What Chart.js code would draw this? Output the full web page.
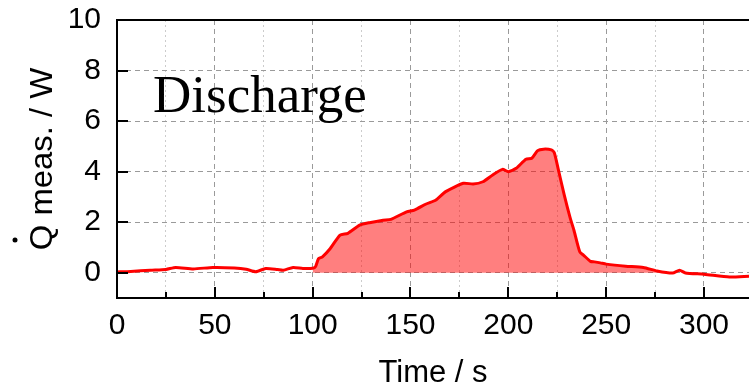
<!DOCTYPE html>
<html>
<head>
<meta charset="utf-8">
<script src="https://cdn.jsdelivr.net/npm/chart.js@4.4.1/dist/chart.umd.min.js"></script>
<style>
  html, body { margin: 0; padding: 0; background: #fff; }
  #wrap { width: 749px; height: 392px; }
</style>
</head>
<body>
<div id="wrap"><canvas id="qChart" width="749" height="392"></canvas></div>
<script>
// measured heat flow during discharge
const timeS = [0, 7, 17, 25, 30, 39, 49, 60, 66, 71, 76, 82, 85, 90, 95, 100, 101.5, 103, 105, 109,
  114, 118, 124, 129, 136, 140, 148, 152, 158, 163, 168, 177, 182, 187, 192, 197, 200, 204, 209, 212,
  215, 218, 222, 223.5, 225.5, 228.5, 231.5, 233.5, 236.5, 238.5, 242, 244, 247, 250, 260, 269, 276,
  284, 287.5, 290.5, 300, 313, 323];
const qMeasW = [0.03, 0.05, 0.1, 0.13, 0.21, 0.15, 0.21, 0.19, 0.14, 0.04, 0.17, 0.13, 0.1, 0.21, 0.17, 0.18, 0.25, 0.56, 0.63, 0.96,
  1.49, 1.56, 1.88, 1.98, 2.08, 2.11, 2.41, 2.48, 2.72, 2.88, 3.21, 3.54, 3.51, 3.6, 3.87, 4.09, 4.0, 4.13, 4.49, 4.53,
  4.83, 4.89, 4.86, 4.75, 4.1, 3.1, 2.2, 1.69, 0.83, 0.69, 0.45, 0.43, 0.39, 0.34, 0.26, 0.21, 0.07,
  -0.01, 0.1, -0.01, -0.06, -0.17, -0.14];

const xMajorTicks = [0, 50, 100, 150, 200, 250, 300];
const xMinorTicks = [25, 75, 125, 175, 225, 275];
const yTicks = [0, 2, 4, 6, 8, 10];
const xRange = [0, 323];
const yRange = [-1, 10];
const dischargeWindow = [100, 276];

const curve = timeS.map((t, i) => ({ x: t, y: qMeasW[i] }));
const dischargeArea = curve.filter(p => p.x >= dischargeWindow[0] && p.x <= dischargeWindow[1]);

const isMajorX = v => xMajorTicks.includes(v);

// frame, inward tick marks, y title with the flow dot, and the panel label
const framePlugin = {
  id: 'frame',
  afterDraw(chart) {
    const { ctx, chartArea: a, scales } = chart;
    const xs = scales.x, ys = scales.y;
    ctx.save();
    ctx.strokeStyle = '#000';
    ctx.lineWidth = 2;
    ctx.beginPath();
    ctx.moveTo(a.right, a.top);
    ctx.lineTo(a.left, a.top);
    ctx.lineTo(a.left, a.bottom);
    ctx.lineTo(a.right, a.bottom);
    ctx.stroke();

    ctx.beginPath();
    xMajorTicks.forEach(v => {
      const px = Math.round(xs.getPixelForValue(v));
      ctx.moveTo(px, a.bottom);
      ctx.lineTo(px, a.bottom - 11);
    });
    xMinorTicks.forEach(v => {
      const px = Math.round(xs.getPixelForValue(v));
      ctx.moveTo(px, a.bottom);
      ctx.lineTo(px, a.bottom - 6);
    });
    yTicks.forEach(v => {
      const py = Math.round(ys.getPixelForValue(v));
      ctx.moveTo(a.left, py);
      ctx.lineTo(a.left + 11, py);
    });
    ctx.stroke();

    // y axis title, slightly stretched along its length
    ctx.fillStyle = '#000';
    ctx.font = '31px "Liberation Sans", Arial, sans-serif';
    ctx.textAlign = 'center';
    ctx.textBaseline = 'middle';
    ctx.save();
    ctx.translate(43, (a.top + a.bottom) / 2);
    ctx.rotate(-Math.PI / 2);
    ctx.scale(1.06, 1);
    ctx.fillText('Q meas. / W', 0, 0);
    ctx.restore();
    ctx.beginPath();
    ctx.arc(15, 240, 2.5, 0, Math.PI * 2);
    ctx.fill();

    ctx.font = '53px "Liberation Serif", "Times New Roman", serif';
    ctx.textAlign = 'left';
    ctx.textBaseline = 'alphabetic';
    ctx.fillText('Discharge', a.left + 36, 112);
    ctx.restore();
  }
};

const axisFont = { family: '"Liberation Sans", Arial, sans-serif', size: 30 };

new Chart(document.getElementById('qChart'), {
  type: 'line',
  data: {
    datasets: [
      {
        data: curve,
        borderColor: '#ff0000',
        borderWidth: 3,
        pointRadius: 0,
        tension: 0.2,
        fill: false
      },
      {
        data: dischargeArea,
        borderWidth: 0,
        borderColor: 'rgba(0,0,0,0)',
        backgroundColor: 'rgba(255, 0, 0, 0.5)',
        pointRadius: 0,
        tension: 0.2,
        fill: 'origin'
      }
    ]
  },
  options: {
    responsive: false,
    animation: false,
    layout: { padding: { top: 20, left: 0, right: 0, bottom: 0 } },
    plugins: {
      legend: { display: false },
      tooltip: { enabled: false }
    },
    scales: {
      x: {
        type: 'linear',
        min: xRange[0],
        max: xRange[1],
        afterBuildTicks: scale => {
          scale.ticks = [...xMajorTicks, ...xMinorTicks].sort((p, q) => p - q).map(v => ({ value: v }));
        },
        afterFit: scale => {
          scale.height = 94;
          scale.paddingLeft = 0;
          scale.paddingRight = 0;
        },
        ticks: {
          autoSkip: false,
          maxRotation: 0,
          padding: 10,
          color: '#000',
          font: axisFont,
          callback: v => (isMajorX(v) ? String(v) : '')
        },
        grid: {
          drawTicks: false,
          lineWidth: 1,
          color: c => (c.tick && isMajorX(c.tick.value) ? '#9a9a9a' : '#cccccc')
        },
        border: {
          display: false,
          dash: c => (c.tick && isMajorX(c.tick.value) ? [5, 4] : [2, 3])
        },
        title: {
          display: true,
          text: 'Time / s',
          color: '#000',
          font: { family: '"Liberation Sans", Arial, sans-serif', size: 31 },
          padding: { top: 0, bottom: 0 }
        }
      },
      y: {
        min: yRange[0],
        max: yRange[1],
        afterBuildTicks: scale => {
          scale.ticks = yTicks.map(v => ({ value: v }));
        },
        afterFit: scale => {
          scale.width = 117;
          scale.paddingTop = 0;
          scale.paddingBottom = 0;
        },
        ticks: {
          padding: 16,
          color: '#000',
          font: axisFont
        },
        grid: {
          drawTicks: false,
          lineWidth: 1,
          color: '#9a9a9a'
        },
        border: { display: false, dash: [5, 4] }
      }
    }
  },
  plugins: [framePlugin]
});
</script>
</body>
</html>
